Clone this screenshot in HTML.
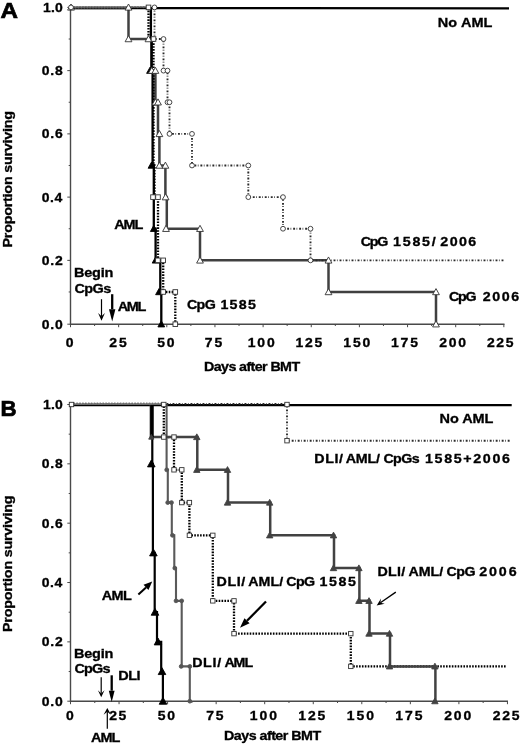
<!DOCTYPE html>
<html><head><meta charset="utf-8"><title>Figure</title>
<style>
html,body{margin:0;padding:0;background:#fff;}
svg{display:block;}
text{font-family:"Liberation Sans",sans-serif;font-weight:bold;fill:#000;stroke:#000;stroke-width:0.35px;}
.big{stroke-width:0.7px;}
</style></head><body>
<svg width="520" height="748" viewBox="0 0 520 748">
<defs><filter id="soft" x="0" y="0" width="100%" height="100%" filterUnits="userSpaceOnUse"><feGaussianBlur stdDeviation="0.45"/></filter></defs>
<rect width="520" height="748" fill="#fff"/>
<g filter="url(#soft)">
<path d="M70.5 6.9 V324.2 H504.5" fill="none" stroke="#484848" stroke-width="1.4"/>
<path d="M70.50 324.2 v3" stroke="#484848" stroke-width="1"/>
<path d="M94.58 324.2 v1.8" stroke="#484848" stroke-width="1"/>
<path d="M118.65 324.2 v3" stroke="#484848" stroke-width="1"/>
<path d="M142.72 324.2 v1.8" stroke="#484848" stroke-width="1"/>
<path d="M166.80 324.2 v3" stroke="#484848" stroke-width="1"/>
<path d="M190.88 324.2 v1.8" stroke="#484848" stroke-width="1"/>
<path d="M214.95 324.2 v3" stroke="#484848" stroke-width="1"/>
<path d="M239.03 324.2 v1.8" stroke="#484848" stroke-width="1"/>
<path d="M263.10 324.2 v3" stroke="#484848" stroke-width="1"/>
<path d="M287.17 324.2 v1.8" stroke="#484848" stroke-width="1"/>
<path d="M311.25 324.2 v3" stroke="#484848" stroke-width="1"/>
<path d="M335.32 324.2 v1.8" stroke="#484848" stroke-width="1"/>
<path d="M359.40 324.2 v3" stroke="#484848" stroke-width="1"/>
<path d="M383.47 324.2 v1.8" stroke="#484848" stroke-width="1"/>
<path d="M407.55 324.2 v3" stroke="#484848" stroke-width="1"/>
<path d="M431.62 324.2 v1.8" stroke="#484848" stroke-width="1"/>
<path d="M455.70 324.2 v3" stroke="#484848" stroke-width="1"/>
<path d="M479.77 324.2 v1.8" stroke="#484848" stroke-width="1"/>
<path d="M503.85 324.2 v3" stroke="#484848" stroke-width="1"/>
<path d="M70.5 324.20 h-3.2" stroke="#484848" stroke-width="1"/>
<path d="M70.5 291.98 h-1.8" stroke="#484848" stroke-width="1"/>
<path d="M70.5 260.36 h-3.2" stroke="#484848" stroke-width="1"/>
<path d="M70.5 228.74 h-1.8" stroke="#484848" stroke-width="1"/>
<path d="M70.5 197.12 h-3.2" stroke="#484848" stroke-width="1"/>
<path d="M70.5 165.50 h-1.8" stroke="#484848" stroke-width="1"/>
<path d="M70.5 133.88 h-3.2" stroke="#484848" stroke-width="1"/>
<path d="M70.5 102.26 h-1.8" stroke="#484848" stroke-width="1"/>
<path d="M70.5 70.64 h-3.2" stroke="#484848" stroke-width="1"/>
<path d="M70.5 39.02 h-1.8" stroke="#484848" stroke-width="1"/>
<path d="M70.5 7.40 h-3.2" stroke="#484848" stroke-width="1"/>
<path d="M70.50 8.10 L509.00 8.30" fill="none" stroke="#000" stroke-width="2.2" stroke-linejoin="miter"/>
<path d="M70.50 8.03 L128.50 8.03 L128.50 39.02 L148.50 39.02 L151.50 39.02 L151.50 70.64 L155.40 70.64 L155.40 102.26 L158.00 102.26 L158.00 133.88 L159.40 133.88 L159.40 165.50 L165.40 165.50 L165.40 197.12 L166.80 197.12 L166.80 228.74 L200.00 228.74 L200.00 260.36 L328.50 260.36 L328.50 291.98 L436.00 291.98 L436.00 324.20" fill="none" stroke="#404040" stroke-width="2.5" stroke-linejoin="miter"/>
<path d="M70.50 7.40 L148.50 7.40 L148.50 39.02 L153.50 39.02 L153.50 165.50 L154.50 165.50 L154.50 197.12 L158.00 197.12 L158.00 260.36 L163.20 260.36 L163.20 291.98 L175.30 291.98 L175.30 324.20" fill="none" stroke="#000" stroke-width="2.3" stroke-dasharray="1.6 1.3" stroke-linejoin="miter"/>
<path d="M70.50 7.40 L154.50 7.40 L154.50 39.02 L163.50 39.02 L163.50 70.64 L167.50 70.64 L167.50 102.26 L169.50 102.26 L169.50 133.88 L192.00 133.88 L192.00 165.50 L248.30 165.50 L248.30 197.12 L283.00 197.12 L283.00 228.74 L310.50 228.74 L310.50 260.36 L503.50 260.36" fill="none" stroke="#2b2b2b" stroke-width="1.9" stroke-dasharray="1.9 1.5 0.7 1.9" stroke-linejoin="miter"/>
<path d="M150.90 7.40 L150.90 39.02 L151.60 39.02 L151.60 70.64 L152.60 70.64 L152.60 165.50 L153.80 165.50 L153.80 228.74 L155.60 228.74 L155.60 260.36 L160.30 260.36 L160.30 291.98 L161.30 291.98 L161.30 324.20" fill="none" stroke="#000" stroke-width="2.3" stroke-linejoin="miter"/>
<path d="M70.5 6.90 H148" stroke="#858585" stroke-width="1.8" opacity="0.8"/>
<path d="M150.00 67.24 L153.40 73.36 L146.60 73.36 Z" fill="#000" stroke="#000" stroke-width="0.9" stroke-linejoin="miter"/>
<path d="M151.50 162.10 L154.90 168.22 L148.10 168.22 Z" fill="#000" stroke="#000" stroke-width="0.9" stroke-linejoin="miter"/>
<path d="M153.80 225.34 L157.20 231.46 L150.40 231.46 Z" fill="#000" stroke="#000" stroke-width="0.9" stroke-linejoin="miter"/>
<path d="M155.60 256.96 L159.00 263.08 L152.20 263.08 Z" fill="#000" stroke="#000" stroke-width="0.9" stroke-linejoin="miter"/>
<path d="M159.00 288.58 L162.40 294.70 L155.60 294.70 Z" fill="#000" stroke="#000" stroke-width="0.9" stroke-linejoin="miter"/>
<path d="M161.30 320.80 L164.70 326.92 L157.90 326.92 Z" fill="#000" stroke="#000" stroke-width="0.9" stroke-linejoin="miter"/>
<path d="M71.00 4.00 L74.40 10.12 L67.60 10.12 Z" fill="#fff" stroke="#333" stroke-width="0.9" stroke-linejoin="miter"/>
<path d="M128.50 4.00 L131.90 10.12 L125.10 10.12 Z" fill="#fff" stroke="#333" stroke-width="0.9" stroke-linejoin="miter"/>
<path d="M128.50 35.62 L131.90 41.74 L125.10 41.74 Z" fill="#fff" stroke="#333" stroke-width="0.9" stroke-linejoin="miter"/>
<path d="M148.50 35.62 L151.90 41.74 L145.10 41.74 Z" fill="#fff" stroke="#333" stroke-width="0.9" stroke-linejoin="miter"/>
<path d="M151.80 67.24 L155.20 73.36 L148.40 73.36 Z" fill="#fff" stroke="#333" stroke-width="0.9" stroke-linejoin="miter"/>
<path d="M155.40 67.24 L158.80 73.36 L152.00 73.36 Z" fill="#fff" stroke="#333" stroke-width="0.9" stroke-linejoin="miter"/>
<path d="M155.40 98.86 L158.80 104.98 L152.00 104.98 Z" fill="#fff" stroke="#333" stroke-width="0.9" stroke-linejoin="miter"/>
<path d="M158.00 98.86 L161.40 104.98 L154.60 104.98 Z" fill="#fff" stroke="#333" stroke-width="0.9" stroke-linejoin="miter"/>
<path d="M159.40 130.48 L162.80 136.60 L156.00 136.60 Z" fill="#fff" stroke="#333" stroke-width="0.9" stroke-linejoin="miter"/>
<path d="M159.40 162.10 L162.80 168.22 L156.00 168.22 Z" fill="#fff" stroke="#333" stroke-width="0.9" stroke-linejoin="miter"/>
<path d="M165.40 162.10 L168.80 168.22 L162.00 168.22 Z" fill="#fff" stroke="#333" stroke-width="0.9" stroke-linejoin="miter"/>
<path d="M165.60 193.72 L169.00 199.84 L162.20 199.84 Z" fill="#fff" stroke="#333" stroke-width="0.9" stroke-linejoin="miter"/>
<path d="M166.00 225.34 L169.40 231.46 L162.60 231.46 Z" fill="#fff" stroke="#333" stroke-width="0.9" stroke-linejoin="miter"/>
<path d="M200.00 225.34 L203.40 231.46 L196.60 231.46 Z" fill="#fff" stroke="#333" stroke-width="0.9" stroke-linejoin="miter"/>
<path d="M200.00 256.96 L203.40 263.08 L196.60 263.08 Z" fill="#fff" stroke="#333" stroke-width="0.9" stroke-linejoin="miter"/>
<path d="M328.50 256.96 L331.90 263.08 L325.10 263.08 Z" fill="#fff" stroke="#333" stroke-width="0.9" stroke-linejoin="miter"/>
<path d="M328.50 288.58 L331.90 294.70 L325.10 294.70 Z" fill="#fff" stroke="#333" stroke-width="0.9" stroke-linejoin="miter"/>
<path d="M436.00 288.58 L439.40 294.70 L432.60 294.70 Z" fill="#fff" stroke="#333" stroke-width="0.9" stroke-linejoin="miter"/>
<path d="M436.00 320.80 L439.40 326.92 L432.60 326.92 Z" fill="#fff" stroke="#333" stroke-width="0.9" stroke-linejoin="miter"/>
<rect x="146.20" y="5.10" width="4.6" height="4.6" fill="#fff" stroke="#333" stroke-width="0.9"/>
<rect x="151.20" y="36.72" width="4.6" height="4.6" fill="#fff" stroke="#333" stroke-width="0.9"/>
<rect x="150.70" y="194.82" width="4.6" height="4.6" fill="#fff" stroke="#333" stroke-width="0.9"/>
<rect x="155.70" y="194.82" width="4.6" height="4.6" fill="#fff" stroke="#333" stroke-width="0.9"/>
<rect x="155.60" y="258.06" width="4.6" height="4.6" fill="#fff" stroke="#333" stroke-width="0.9"/>
<rect x="160.90" y="258.06" width="4.6" height="4.6" fill="#fff" stroke="#333" stroke-width="0.9"/>
<rect x="160.90" y="289.68" width="4.6" height="4.6" fill="#fff" stroke="#333" stroke-width="0.9"/>
<rect x="173.00" y="289.68" width="4.6" height="4.6" fill="#fff" stroke="#333" stroke-width="0.9"/>
<rect x="173.00" y="321.90" width="4.6" height="4.6" fill="#fff" stroke="#333" stroke-width="0.9"/>
<circle cx="71.00" cy="7.40" r="2.4" fill="#fff" stroke="#333" stroke-width="0.9"/>
<circle cx="154.50" cy="7.40" r="2.4" fill="#fff" stroke="#333" stroke-width="0.9"/>
<circle cx="163.50" cy="39.02" r="2.4" fill="#fff" stroke="#333" stroke-width="0.9"/>
<circle cx="163.50" cy="70.64" r="2.4" fill="#fff" stroke="#333" stroke-width="0.9"/>
<circle cx="167.50" cy="70.64" r="2.4" fill="#fff" stroke="#333" stroke-width="0.9"/>
<circle cx="167.50" cy="102.26" r="2.4" fill="#fff" stroke="#333" stroke-width="0.9"/>
<circle cx="169.50" cy="102.26" r="2.4" fill="#fff" stroke="#333" stroke-width="0.9"/>
<circle cx="169.50" cy="133.88" r="2.4" fill="#fff" stroke="#333" stroke-width="0.9"/>
<circle cx="192.00" cy="133.88" r="2.4" fill="#fff" stroke="#333" stroke-width="0.9"/>
<circle cx="192.00" cy="165.50" r="2.4" fill="#fff" stroke="#333" stroke-width="0.9"/>
<circle cx="248.30" cy="165.50" r="2.4" fill="#fff" stroke="#333" stroke-width="0.9"/>
<circle cx="248.30" cy="197.12" r="2.4" fill="#fff" stroke="#333" stroke-width="0.9"/>
<circle cx="283.00" cy="197.12" r="2.4" fill="#fff" stroke="#333" stroke-width="0.9"/>
<circle cx="283.00" cy="228.74" r="2.4" fill="#fff" stroke="#333" stroke-width="0.9"/>
<circle cx="310.50" cy="228.74" r="2.4" fill="#fff" stroke="#333" stroke-width="0.9"/>
<circle cx="310.50" cy="260.36" r="2.4" fill="#fff" stroke="#333" stroke-width="0.9"/>
<text transform="matrix(1 0 0 0.916 0 328.7)" x="41.65" font-size="13.97" textLength="21.23" lengthAdjust="spacing">0.0</text>
<text transform="matrix(1 0 0 0.916 0 264.86)" x="41.65" font-size="13.97" textLength="21.21" lengthAdjust="spacing">0.2</text>
<text transform="matrix(1 0 0 0.916 0 201.62)" x="41.65" font-size="13.97" textLength="20.73" lengthAdjust="spacing">0.4</text>
<text transform="matrix(1 0 0 0.916 0 138.38)" x="41.65" font-size="13.97" textLength="21.16" lengthAdjust="spacing">0.6</text>
<text transform="matrix(1 0 0 0.916 0 75.13999999999999)" x="41.65" font-size="13.97" textLength="21.08" lengthAdjust="spacing">0.8</text>
<text transform="matrix(1 0 0 0.916 0 11.9)" x="42.92" font-size="13.97" textLength="19.95" lengthAdjust="spacing">1.0</text>
<text transform="matrix(1 0 0 0.916 0 346.9)" x="65.7" font-size="13.97">0</text>
<text transform="matrix(1 0 0 0.916 0 346.9)" x="109.3" font-size="13.97" textLength="17.37" lengthAdjust="spacing">25</text>
<text transform="matrix(1 0 0 0.916 0 346.9)" x="157.13" font-size="13.97" textLength="17.5" lengthAdjust="spacing">50</text>
<text transform="matrix(1 0 0 0.916 0 346.9)" x="204.74" font-size="13.97" textLength="17.49" lengthAdjust="spacing">75</text>
<text transform="matrix(1 0 0 0.916 0 346.9)" x="247.64" font-size="13.97" textLength="27.15" lengthAdjust="spacing">100</text>
<text transform="matrix(1 0 0 0.916 0 346.9)" x="295.42" font-size="13.97" textLength="26.97" lengthAdjust="spacing">125</text>
<text transform="matrix(1 0 0 0.916 0 346.9)" x="343.2" font-size="13.97" textLength="27.15" lengthAdjust="spacing">150</text>
<text transform="matrix(1 0 0 0.916 0 346.9)" x="390.98" font-size="13.97" textLength="26.97" lengthAdjust="spacing">175</text>
<text transform="matrix(1 0 0 0.916 0 346.9)" x="439.16" font-size="13.97" textLength="26.76" lengthAdjust="spacing">200</text>
<text transform="matrix(1 0 0 0.916 0 346.9)" x="486.94" font-size="13.97" textLength="26.57" lengthAdjust="spacing">225</text>
<text transform="matrix(1 0 0 0.916 0 370.6)" x="204.04" font-size="14.28" textLength="96.11" lengthAdjust="spacing">Days after BMT</text>
<text transform="translate(12,247.5) rotate(-90) scale(1,0.916)" font-size="14.3" textLength="136.5" lengthAdjust="spacing">Proportion surviving</text>
<text transform="translate(0.5,18) scale(1.1,1)" font-size="22" class="big">A</text>
<text transform="matrix(1 0 0 0.916 0 27)" x="437.83" font-size="14.49" textLength="54.62" lengthAdjust="spacing">No AML</text>
<text transform="matrix(1 0 0 0.916 0 228.5)" x="114.24" font-size="14.49" textLength="29.21" lengthAdjust="spacing">AML</text>
<text transform="matrix(1 0 0 0.916 0 245.8)" font-size="14.28"><tspan x="360.81" textLength="27.67" lengthAdjust="spacing">CpG</tspan> <tspan x="393.1" textLength="42.64" lengthAdjust="spacing">1585/</tspan> <tspan x="440.3" textLength="36.01" lengthAdjust="spacing">2006</tspan></text>
<text transform="matrix(1 0 0 0.916 0 301.3)" font-size="14.28"><tspan x="449.11" textLength="27.57" lengthAdjust="spacing">CpG</tspan> <tspan x="482.8" textLength="36.31" lengthAdjust="spacing">2006</tspan></text>
<text transform="matrix(1 0 0 0.916 0 308.5)" font-size="14.28"><tspan x="186.91" textLength="28.97" lengthAdjust="spacing">CpG</tspan> <tspan x="220.4" textLength="35.5" lengthAdjust="spacing">1585</tspan></text>
<text transform="matrix(1 0 0 0.916 0 277)" x="74.03" font-size="14.49" textLength="39.37" lengthAdjust="spacing">Begin</text>
<text transform="matrix(1 0 0 0.916 0 293)" x="74.41" font-size="14.49" textLength="36.89" lengthAdjust="spacing">CpGs</text>
<text transform="matrix(1 0 0 0.916 0 311)" x="117.64" font-size="14.49" textLength="28.81" lengthAdjust="spacing">AML</text>
<path d="M101.50 299.20 L101.50 316.18" stroke="#000" stroke-width="1.2" fill="none"/>
<path d="M101.50 320.80 L98.10 313.10 L101.50 316.18 L104.90 313.10 Z" fill="#000"/>
<path d="M112.20 294.20 L112.20 309.20" stroke="#000" stroke-width="2.3" fill="none"/>
<path d="M112.20 321.50 L109.00 309.20 L112.20 309.20 L115.40 309.20 Z" fill="#000"/>
<path d="M70.5 404.0 V701.2 H508" fill="none" stroke="#484848" stroke-width="1.4"/>
<path d="M70.50 701.2 v3" stroke="#484848" stroke-width="1"/>
<path d="M94.78 701.2 v1.8" stroke="#484848" stroke-width="1"/>
<path d="M119.05 701.2 v3" stroke="#484848" stroke-width="1"/>
<path d="M143.32 701.2 v1.8" stroke="#484848" stroke-width="1"/>
<path d="M167.60 701.2 v3" stroke="#484848" stroke-width="1"/>
<path d="M191.88 701.2 v1.8" stroke="#484848" stroke-width="1"/>
<path d="M216.15 701.2 v3" stroke="#484848" stroke-width="1"/>
<path d="M240.42 701.2 v1.8" stroke="#484848" stroke-width="1"/>
<path d="M264.70 701.2 v3" stroke="#484848" stroke-width="1"/>
<path d="M288.98 701.2 v1.8" stroke="#484848" stroke-width="1"/>
<path d="M313.25 701.2 v3" stroke="#484848" stroke-width="1"/>
<path d="M337.52 701.2 v1.8" stroke="#484848" stroke-width="1"/>
<path d="M361.80 701.2 v3" stroke="#484848" stroke-width="1"/>
<path d="M386.07 701.2 v1.8" stroke="#484848" stroke-width="1"/>
<path d="M410.35 701.2 v3" stroke="#484848" stroke-width="1"/>
<path d="M434.62 701.2 v1.8" stroke="#484848" stroke-width="1"/>
<path d="M458.90 701.2 v3" stroke="#484848" stroke-width="1"/>
<path d="M483.17 701.2 v1.8" stroke="#484848" stroke-width="1"/>
<path d="M507.45 701.2 v3" stroke="#484848" stroke-width="1"/>
<path d="M70.5 701.20 h-3.2" stroke="#484848" stroke-width="1"/>
<path d="M70.5 671.53 h-1.8" stroke="#484848" stroke-width="1"/>
<path d="M70.5 641.86 h-3.2" stroke="#484848" stroke-width="1"/>
<path d="M70.5 612.19 h-1.8" stroke="#484848" stroke-width="1"/>
<path d="M70.5 582.52 h-3.2" stroke="#484848" stroke-width="1"/>
<path d="M70.5 552.85 h-1.8" stroke="#484848" stroke-width="1"/>
<path d="M70.5 523.18 h-3.2" stroke="#484848" stroke-width="1"/>
<path d="M70.5 493.51 h-1.8" stroke="#484848" stroke-width="1"/>
<path d="M70.5 463.84 h-3.2" stroke="#484848" stroke-width="1"/>
<path d="M70.5 434.17 h-1.8" stroke="#484848" stroke-width="1"/>
<path d="M70.5 404.50 h-3.2" stroke="#484848" stroke-width="1"/>
<path d="M70.50 405.10 L511.70 405.10" fill="none" stroke="#000" stroke-width="2.2" stroke-linejoin="miter"/>
<path d="M70.50 403.91 L163.80 403.91 L163.80 437.06 L174.00 437.06 L174.00 469.82 L181.80 469.82 L181.80 502.58 L189.40 502.58 L189.40 535.34 L212.80 535.34 L212.80 600.86 L234.00 600.86 L234.00 633.62 L350.80 633.62 L350.80 666.38 L506.50 666.38" fill="none" stroke="#000" stroke-width="2.3" stroke-dasharray="1.6 1.3" stroke-linejoin="miter"/>
<path d="M70.50 403.91 L287.00 403.91 L287.00 440.70 L509.80 440.70" fill="none" stroke="#2b2b2b" stroke-width="1.9" stroke-dasharray="1.9 1.5 0.7 1.9" stroke-linejoin="miter"/>
<path d="M166.60 404.50 L166.60 469.82 L167.80 469.82 L167.80 502.58 L171.80 502.58 L171.80 535.34 L174.30 535.34 L174.30 568.10 L176.00 568.10 L176.00 600.86 L181.70 600.86 L181.70 666.38 L189.80 666.38 L189.80 701.20" fill="none" stroke="#5a5a5a" stroke-width="2.1" stroke-linejoin="miter"/>
<path d="M150.90 404.50 L150.90 437.06 L197.30 437.06 L197.30 469.82 L228.00 469.82 L228.00 502.58 L270.20 502.58 L270.20 535.34 L334.00 535.34 L334.00 568.10 L359.40 568.10 L359.40 600.86 L369.50 600.86 L369.50 633.62 L390.00 633.62 L390.00 666.38 L435.40 666.38 L435.40 701.20" fill="none" stroke="#424242" stroke-width="2.5" stroke-linejoin="miter"/>
<path d="M152.30 404.50 L152.30 463.84 L152.90 463.84 L152.90 552.85 L154.70 552.85 L154.70 612.19 L157.00 612.19 L157.00 641.86 L161.20 641.86 L161.20 671.53 L162.90 671.53 L162.90 701.20" fill="none" stroke="#000" stroke-width="2.2" stroke-linejoin="miter"/>
<path d="M151.90 404.50 L151.90 437.06" fill="none" stroke="#000" stroke-width="3.4" stroke-linejoin="miter"/>
<path d="M70.5 404.00 H166" stroke="#858585" stroke-width="1.8" opacity="0.8"/>
<path d="M151.30 460.04 L155.10 466.88 L147.50 466.88 Z" fill="#000" stroke="#000" stroke-width="0.9" stroke-linejoin="miter"/>
<path d="M153.40 549.05 L157.20 555.89 L149.60 555.89 Z" fill="#000" stroke="#000" stroke-width="0.9" stroke-linejoin="miter"/>
<path d="M155.00 608.39 L158.80 615.23 L151.20 615.23 Z" fill="#000" stroke="#000" stroke-width="0.9" stroke-linejoin="miter"/>
<path d="M158.00 638.06 L161.80 644.90 L154.20 644.90 Z" fill="#000" stroke="#000" stroke-width="0.9" stroke-linejoin="miter"/>
<path d="M162.00 667.73 L165.80 674.57 L158.20 674.57 Z" fill="#000" stroke="#000" stroke-width="0.9" stroke-linejoin="miter"/>
<path d="M163.00 697.40 L166.80 704.24 L159.20 704.24 Z" fill="#000" stroke="#000" stroke-width="0.9" stroke-linejoin="miter"/>
<path d="M196.80 433.86 L200.00 439.62 L193.60 439.62 Z" fill="#424242" stroke="#424242" stroke-width="0.9" stroke-linejoin="miter"/>
<path d="M196.80 466.62 L200.00 472.38 L193.60 472.38 Z" fill="#424242" stroke="#424242" stroke-width="0.9" stroke-linejoin="miter"/>
<path d="M227.50 466.62 L230.70 472.38 L224.30 472.38 Z" fill="#424242" stroke="#424242" stroke-width="0.9" stroke-linejoin="miter"/>
<path d="M227.50 499.38 L230.70 505.14 L224.30 505.14 Z" fill="#424242" stroke="#424242" stroke-width="0.9" stroke-linejoin="miter"/>
<path d="M269.70 499.38 L272.90 505.14 L266.50 505.14 Z" fill="#424242" stroke="#424242" stroke-width="0.9" stroke-linejoin="miter"/>
<path d="M269.70 532.14 L272.90 537.90 L266.50 537.90 Z" fill="#424242" stroke="#424242" stroke-width="0.9" stroke-linejoin="miter"/>
<path d="M333.50 532.14 L336.70 537.90 L330.30 537.90 Z" fill="#424242" stroke="#424242" stroke-width="0.9" stroke-linejoin="miter"/>
<path d="M333.50 564.90 L336.70 570.66 L330.30 570.66 Z" fill="#424242" stroke="#424242" stroke-width="0.9" stroke-linejoin="miter"/>
<path d="M358.90 564.90 L362.10 570.66 L355.70 570.66 Z" fill="#424242" stroke="#424242" stroke-width="0.9" stroke-linejoin="miter"/>
<path d="M358.90 597.66 L362.10 603.42 L355.70 603.42 Z" fill="#424242" stroke="#424242" stroke-width="0.9" stroke-linejoin="miter"/>
<path d="M369.00 597.66 L372.20 603.42 L365.80 603.42 Z" fill="#424242" stroke="#424242" stroke-width="0.9" stroke-linejoin="miter"/>
<path d="M369.00 630.42 L372.20 636.18 L365.80 636.18 Z" fill="#424242" stroke="#424242" stroke-width="0.9" stroke-linejoin="miter"/>
<path d="M389.50 630.42 L392.70 636.18 L386.30 636.18 Z" fill="#424242" stroke="#424242" stroke-width="0.9" stroke-linejoin="miter"/>
<path d="M389.50 663.18 L392.70 668.94 L386.30 668.94 Z" fill="#424242" stroke="#424242" stroke-width="0.9" stroke-linejoin="miter"/>
<path d="M434.90 663.18 L438.10 668.94 L431.70 668.94 Z" fill="#424242" stroke="#424242" stroke-width="0.9" stroke-linejoin="miter"/>
<path d="M434.90 698.00 L438.10 703.76 L431.70 703.76 Z" fill="#424242" stroke="#424242" stroke-width="0.9" stroke-linejoin="miter"/>
<path d="M151.30 434.46 L153.90 439.14 L148.70 439.14 Z" fill="#404040" stroke="#404040" stroke-width="0.9" stroke-linejoin="miter"/>
<circle cx="166.70" cy="469.82" r="1.9" fill="#555" stroke="#555" stroke-width="0.9"/>
<circle cx="167.70" cy="502.58" r="1.9" fill="#555" stroke="#555" stroke-width="0.9"/>
<circle cx="171.50" cy="502.58" r="1.9" fill="#555" stroke="#555" stroke-width="0.9"/>
<circle cx="172.50" cy="535.34" r="1.9" fill="#555" stroke="#555" stroke-width="0.9"/>
<circle cx="174.80" cy="568.10" r="1.9" fill="#555" stroke="#555" stroke-width="0.9"/>
<circle cx="176.00" cy="600.86" r="1.9" fill="#555" stroke="#555" stroke-width="0.9"/>
<circle cx="181.70" cy="600.86" r="1.9" fill="#555" stroke="#555" stroke-width="0.9"/>
<circle cx="181.20" cy="666.38" r="1.9" fill="#555" stroke="#555" stroke-width="0.9"/>
<circle cx="189.80" cy="666.38" r="1.9" fill="#555" stroke="#555" stroke-width="0.9"/>
<circle cx="189.80" cy="701.20" r="1.9" fill="#555" stroke="#555" stroke-width="0.9"/>
<rect x="69.30" y="402.30" width="4.4" height="4.4" fill="#fff" stroke="#333" stroke-width="0.9"/>
<rect x="161.60" y="402.30" width="4.4" height="4.4" fill="#fff" stroke="#333" stroke-width="0.9"/>
<rect x="161.60" y="434.86" width="4.4" height="4.4" fill="#fff" stroke="#333" stroke-width="0.9"/>
<rect x="171.80" y="434.86" width="4.4" height="4.4" fill="#fff" stroke="#333" stroke-width="0.9"/>
<rect x="171.80" y="467.62" width="4.4" height="4.4" fill="#fff" stroke="#333" stroke-width="0.9"/>
<rect x="179.60" y="467.62" width="4.4" height="4.4" fill="#fff" stroke="#333" stroke-width="0.9"/>
<rect x="179.60" y="500.38" width="4.4" height="4.4" fill="#fff" stroke="#333" stroke-width="0.9"/>
<rect x="187.20" y="500.38" width="4.4" height="4.4" fill="#fff" stroke="#333" stroke-width="0.9"/>
<rect x="187.20" y="533.14" width="4.4" height="4.4" fill="#fff" stroke="#333" stroke-width="0.9"/>
<rect x="210.60" y="533.14" width="4.4" height="4.4" fill="#fff" stroke="#333" stroke-width="0.9"/>
<rect x="210.60" y="598.66" width="4.4" height="4.4" fill="#fff" stroke="#333" stroke-width="0.9"/>
<rect x="231.80" y="598.66" width="4.4" height="4.4" fill="#fff" stroke="#333" stroke-width="0.9"/>
<rect x="231.80" y="631.42" width="4.4" height="4.4" fill="#fff" stroke="#333" stroke-width="0.9"/>
<rect x="348.60" y="631.42" width="4.4" height="4.4" fill="#fff" stroke="#333" stroke-width="0.9"/>
<rect x="348.60" y="664.18" width="4.4" height="4.4" fill="#fff" stroke="#333" stroke-width="0.9"/>
<rect x="284.80" y="402.30" width="4.4" height="4.4" fill="#fff" stroke="#333" stroke-width="0.9"/>
<rect x="284.80" y="438.50" width="4.4" height="4.4" fill="#fff" stroke="#333" stroke-width="0.9"/>
<text transform="matrix(1 0 0 0.916 0 705.7)" x="41.65" font-size="13.97" textLength="21.23" lengthAdjust="spacing">0.0</text>
<text transform="matrix(1 0 0 0.916 0 646.36)" x="41.65" font-size="13.97" textLength="21.21" lengthAdjust="spacing">0.2</text>
<text transform="matrix(1 0 0 0.916 0 587.02)" x="41.65" font-size="13.97" textLength="20.73" lengthAdjust="spacing">0.4</text>
<text transform="matrix(1 0 0 0.916 0 527.6800000000001)" x="41.65" font-size="13.97" textLength="21.16" lengthAdjust="spacing">0.6</text>
<text transform="matrix(1 0 0 0.916 0 468.34)" x="41.65" font-size="13.97" textLength="21.08" lengthAdjust="spacing">0.8</text>
<text transform="matrix(1 0 0 0.916 0 409.0)" x="42.92" font-size="13.97" textLength="19.95" lengthAdjust="spacing">1.0</text>
<text transform="matrix(1 0 0 0.916 0 719.8)" x="65.95" font-size="13.97">0</text>
<text transform="matrix(1 0 0 0.916 0 719.8)" x="109.22" font-size="13.97" textLength="17.17" lengthAdjust="spacing">25</text>
<text transform="matrix(1 0 0 0.916 0 719.8)" x="157.82" font-size="13.97" textLength="17.3" lengthAdjust="spacing">50</text>
<text transform="matrix(1 0 0 0.916 0 719.8)" x="206.2" font-size="13.97" textLength="17.29" lengthAdjust="spacing">75</text>
<text transform="matrix(1 0 0 0.916 0 719.8)" x="249.72" font-size="13.97" textLength="27.25" lengthAdjust="spacing">100</text>
<text transform="matrix(1 0 0 0.916 0 719.8)" x="298.27" font-size="13.97" textLength="27.07" lengthAdjust="spacing">125</text>
<text transform="matrix(1 0 0 0.916 0 719.8)" x="346.82" font-size="13.97" textLength="27.25" lengthAdjust="spacing">150</text>
<text transform="matrix(1 0 0 0.916 0 719.8)" x="395.37" font-size="13.97" textLength="27.07" lengthAdjust="spacing">175</text>
<text transform="matrix(1 0 0 0.916 0 719.8)" x="444.32" font-size="13.97" textLength="26.86" lengthAdjust="spacing">200</text>
<text transform="matrix(1 0 0 0.916 0 719.8)" x="492.87" font-size="13.97" textLength="26.67" lengthAdjust="spacing">225</text>
<text transform="matrix(1 0 0 0.916 0 740.4)" x="224.04" font-size="14.28" textLength="97.11" lengthAdjust="spacing">Days after BMT</text>
<text transform="translate(12,632) rotate(-90) scale(1,0.916)" font-size="14.3" textLength="136.5" lengthAdjust="spacing">Proportion surviving</text>
<text transform="translate(0.4,416.2) scale(0.99,1)" font-size="22.5" class="big">B</text>
<text transform="matrix(1 0 0 0.916 0 423.2)" x="439.63" font-size="14.49" textLength="53.82" lengthAdjust="spacing">No AML</text>
<text transform="matrix(1 0 0 0.916 0 462.8)" font-size="14.28"><tspan x="314.34" textLength="28.59" lengthAdjust="spacing">DLI/</tspan> <tspan x="345.64" textLength="34.3" lengthAdjust="spacing">AML/</tspan> <tspan x="383.41" textLength="36.17" lengthAdjust="spacing">CpGs</tspan> <tspan x="425.0" textLength="84.92" lengthAdjust="spacing">1585+2006</tspan></text>
<text transform="matrix(1 0 0 0.916 0 586.4)" font-size="14.28"><tspan x="216.54" textLength="28.79" lengthAdjust="spacing">DLI/</tspan> <tspan x="248.34" textLength="34.8" lengthAdjust="spacing">AML/</tspan> <tspan x="286.31" textLength="28.87" lengthAdjust="spacing">CpG</tspan> <tspan x="319.4" textLength="36.5" lengthAdjust="spacing">1585</tspan></text>
<text transform="matrix(1 0 0 0.916 0 576.4)" font-size="14.28"><tspan x="377.44" textLength="27.89" lengthAdjust="spacing">DLI/</tspan> <tspan x="408.44" textLength="34.8" lengthAdjust="spacing">AML/</tspan> <tspan x="446.41" textLength="29.17" lengthAdjust="spacing">CpG</tspan> <tspan x="479.3" textLength="37.31" lengthAdjust="spacing">2006</tspan></text>
<text transform="matrix(1 0 0 0.916 0 667.4)" font-size="14.28"><tspan x="192.14" textLength="28.99" lengthAdjust="spacing">DLI/</tspan> <tspan x="224.44" textLength="28.69" lengthAdjust="spacing">AML</tspan></text>
<text transform="matrix(1 0 0 0.916 0 600)" x="101.74" font-size="14.49" textLength="30.21" lengthAdjust="spacing">AML</text>
<text transform="matrix(1 0 0 0.916 0 657.5)" x="74.03" font-size="14.49" textLength="39.37" lengthAdjust="spacing">Begin</text>
<text transform="matrix(1 0 0 0.916 0 673)" x="74.41" font-size="14.49" textLength="36.19" lengthAdjust="spacing">CpGs</text>
<text transform="matrix(1 0 0 0.916 0 680)" x="118.33" font-size="14.49" textLength="22.14" lengthAdjust="spacing">DLI</text>
<text transform="matrix(1 0 0 0.916 0 742)" x="90.94" font-size="14.49" textLength="29.51" lengthAdjust="spacing">AML</text>
<path d="M101.20 677.20 L101.20 693.45" stroke="#000" stroke-width="1.2" fill="none"/>
<path d="M101.20 697.30 L97.90 690.30 L101.20 693.45 L104.50 690.30 Z" fill="#000"/>
<path d="M111.70 675.30 L111.70 690.70" stroke="#000" stroke-width="2.3" fill="none"/>
<path d="M111.70 702.00 L108.80 690.70 L111.70 690.70 L114.60 690.70 Z" fill="#000"/>
<path d="M107.30 728.70 L107.30 711.74" stroke="#000" stroke-width="1.2" fill="none"/>
<path d="M107.30 708.00 L111.00 714.80 L107.30 711.74 L103.60 714.80 Z" fill="#000"/>
<path d="M138.40 594.60 L146.01 587.43" stroke="#000" stroke-width="2.0" fill="none"/>
<path d="M152.20 581.60 L148.48 590.05 L146.01 587.43 L143.54 584.81 Z" fill="#000"/>
<path d="M266.00 601.50 L247.03 620.69" stroke="#000" stroke-width="2.3" fill="none"/>
<path d="M240.00 627.80 L244.47 618.16 L247.03 620.69 L249.59 623.22 Z" fill="#000"/>
<path d="M395.80 592.10 L380.39 602.83" stroke="#000" stroke-width="1.3" fill="none"/>
<path d="M376.70 605.40 L380.97 598.41 L380.39 602.83 L384.74 603.82 Z" fill="#000"/>
</g>
</svg>
</body></html>
